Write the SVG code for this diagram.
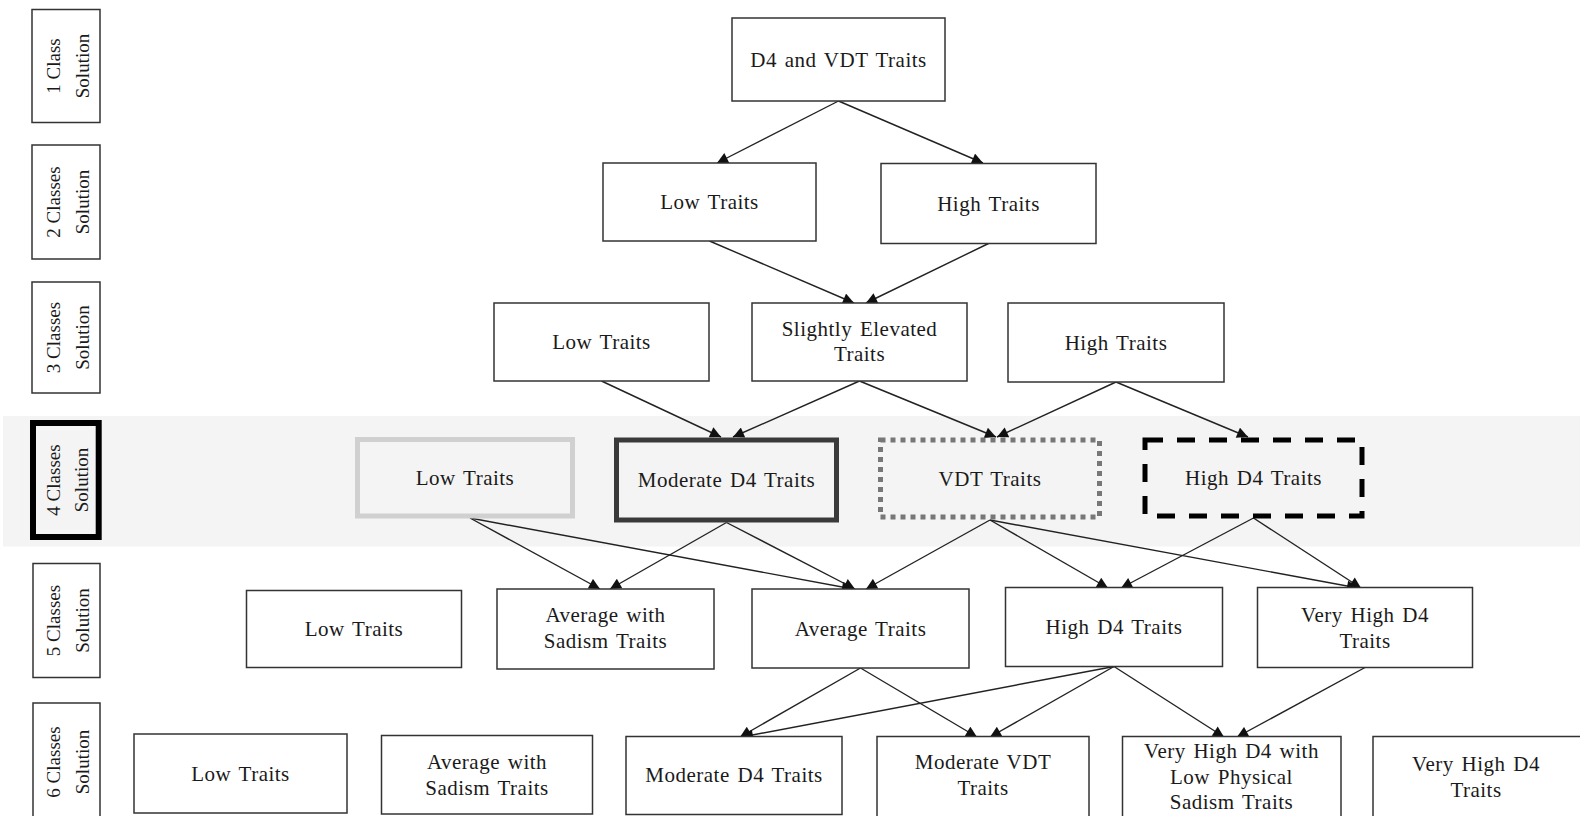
<svg xmlns="http://www.w3.org/2000/svg" width="1580" height="816" viewBox="0 0 1580 816">
<defs>
<marker id="ah" viewBox="0 0 10 10" markerUnits="userSpaceOnUse" markerWidth="12" markerHeight="11" refX="10" refY="5" orient="auto">
<path d="M0,0 L10,5 L0,10 z" fill="#111"/>
</marker>
<style>
.box{fill:#fff;stroke:#333;stroke-width:1.5}
.t{font-family:"Liberation Serif","Times New Roman",serif;font-size:21px;letter-spacing:0.5px;word-spacing:2px;fill:#1a1a1a;text-anchor:middle}
.lt{font-family:"Liberation Serif","Times New Roman",serif;font-size:19px;fill:#1a1a1a;text-anchor:middle}
.c{fill:none;stroke:#222;stroke-width:1.4;marker-end:url(#ah)}
</style>
</defs>
<rect width="1580" height="816" fill="#fff"/>
<rect x="3" y="416" width="1577" height="130.5" fill="#f4f4f4"/>

<g id="label-1">
<rect class="box" x="32" y="9.5" width="68" height="113"/>
<text class="lt" transform="translate(60,66) rotate(-90)">1 Class</text>
<text class="lt" transform="translate(89,66) rotate(-90)">Solution</text>
</g>
<g id="label-2">
<rect class="box" x="32" y="145" width="68" height="114"/>
<text class="lt" transform="translate(60,202) rotate(-90)">2 Classes</text>
<text class="lt" transform="translate(89,202) rotate(-90)">Solution</text>
</g>
<g id="label-3">
<rect class="box" x="32" y="282" width="68" height="111"/>
<text class="lt" transform="translate(60,337.5) rotate(-90)">3 Classes</text>
<text class="lt" transform="translate(89,337.5) rotate(-90)">Solution</text>
</g>
<g id="label-4">
<rect x="33" y="423" width="65.7" height="114" fill="#f4f4f4" stroke="#000" stroke-width="6"/>
<text class="lt" transform="translate(60,480) rotate(-90)">4 Classes</text>
<text class="lt" transform="translate(88,480) rotate(-90)">Solution</text>
</g>
<g id="label-5">
<rect class="box" x="33" y="563.5" width="67" height="114"/>
<text class="lt" transform="translate(60,620.5) rotate(-90)">5 Classes</text>
<text class="lt" transform="translate(89,620.5) rotate(-90)">Solution</text>
</g>
<g id="label-6">
<rect class="box" x="33" y="703" width="67" height="120"/>
<text class="lt" transform="translate(60,762) rotate(-90)">6 Classes</text>
<text class="lt" transform="translate(89,762) rotate(-90)">Solution</text>
</g>

<g id="connectors">
<line class="c" x1="838.5" y1="101" x2="717" y2="163"/>
<line class="c" x1="838.5" y1="101" x2="983" y2="163"/>
<line class="c" x1="709.5" y1="241" x2="854" y2="303"/>
<line class="c" x1="988.5" y1="243.5" x2="866" y2="303"/>
<line class="c" x1="601.5" y1="381" x2="721" y2="437"/>
<line class="c" x1="859.5" y1="381" x2="733" y2="437"/>
<line class="c" x1="859.5" y1="381" x2="996" y2="437"/>
<line class="c" x1="1116" y1="382" x2="997" y2="437"/>
<line class="c" x1="1116" y1="382" x2="1248" y2="437"/>
<line class="c" x1="470" y1="518" x2="600" y2="589"/>
<line class="c" x1="470" y1="518" x2="853" y2="589"/>
<line class="c" x1="726.5" y1="522.5" x2="610" y2="589"/>
<line class="c" x1="726.5" y1="522.5" x2="855" y2="589"/>
<line class="c" x1="990" y1="520" x2="866" y2="589"/>
<line class="c" x1="990" y1="520" x2="1108" y2="588"/>
<line class="c" x1="990" y1="520" x2="1358" y2="588"/>
<line class="c" x1="1253.5" y1="518" x2="1121" y2="588"/>
<line class="c" x1="1253.5" y1="518" x2="1361" y2="588"/>
<line class="c" x1="860.5" y1="668" x2="740" y2="737"/>
<line class="c" x1="860.5" y1="668" x2="977" y2="737"/>
<line class="c" x1="1114" y1="666.5" x2="742" y2="737"/>
<line class="c" x1="1114" y1="666.5" x2="990" y2="737"/>
<line class="c" x1="1114" y1="666.5" x2="1224" y2="737"/>
<line class="c" x1="1365" y1="667.5" x2="1237" y2="737"/>
</g>

<g id="n1"><rect class="box" x="732" y="18" width="213" height="83"/><text class="t" x="838.5" y="67">D4 and VDT Traits</text></g>

<g id="n2a"><rect class="box" x="603" y="163" width="213" height="78"/><text class="t" x="709.5" y="209">Low Traits</text></g>
<g id="n2b"><rect class="box" x="881" y="163.5" width="215" height="80"/><text class="t" x="988.5" y="210.5">High Traits</text></g>

<g id="n3a"><rect class="box" x="494" y="303" width="215" height="78"/><text class="t" x="601.5" y="349">Low Traits</text></g>
<g id="n3b"><rect class="box" x="752" y="303" width="215" height="78"/><text class="t" x="859.5" y="336">Slightly Elevated</text><text class="t" x="859.5" y="361">Traits</text></g>
<g id="n3c"><rect class="box" x="1008" y="303" width="216" height="79"/><text class="t" x="1116" y="349.5">High Traits</text></g>

<g id="n4a"><rect x="357.5" y="439.5" width="215" height="76.5" fill="#f4f4f4" stroke="#d0d0d0" stroke-width="5"/><text class="t" x="465" y="484.5">Low Traits</text></g>
<g id="n4b"><rect x="616.5" y="440" width="220" height="80" fill="#f4f4f4" stroke="#3a3a3a" stroke-width="5"/><text class="t" x="726.5" y="487">Moderate D4 Traits</text></g>
<g id="n4c"><rect x="880.5" y="440" width="219" height="77" fill="#f4f4f4" stroke="#777" stroke-width="5" stroke-dasharray="5 5"/><text class="t" x="990" y="485.5">VDT Traits</text></g>
<g id="n4d"><rect x="1145" y="440" width="217" height="76" fill="#f4f4f4" stroke="#000" stroke-width="5" stroke-dasharray="18 14"/><text class="t" x="1253.5" y="485">High D4 Traits</text></g>

<g id="n5a"><rect class="box" x="246.5" y="590.5" width="215" height="77"/><text class="t" x="354" y="636">Low Traits</text></g>
<g id="n5b"><rect class="box" x="497" y="589" width="217" height="80"/><text class="t" x="605.5" y="622">Average with</text><text class="t" x="605.5" y="648">Sadism Traits</text></g>
<g id="n5c"><rect class="box" x="752" y="589" width="217" height="79"/><text class="t" x="860.5" y="635.5">Average Traits</text></g>
<g id="n5d"><rect class="box" x="1005.5" y="587.5" width="217" height="79"/><text class="t" x="1114" y="634">High D4 Traits</text></g>
<g id="n5e"><rect class="box" x="1257.5" y="587.5" width="215" height="80"/><text class="t" x="1365" y="622">Very High D4</text><text class="t" x="1365" y="648">Traits</text></g>

<g id="n6a"><rect class="box" x="134" y="734" width="213" height="79"/><text class="t" x="240.5" y="781">Low Traits</text></g>
<g id="n6b"><rect class="box" x="381.5" y="735.5" width="211" height="78.5"/><text class="t" x="487" y="769">Average with</text><text class="t" x="487" y="795">Sadism Traits</text></g>
<g id="n6c"><rect class="box" x="626" y="736.5" width="216" height="78"/><text class="t" x="734" y="782">Moderate D4 Traits</text></g>
<g id="n6d"><rect class="box" x="877" y="736.5" width="212" height="90"/><text class="t" x="983" y="769">Moderate VDT</text><text class="t" x="983" y="795">Traits</text></g>
<g id="n6e"><rect class="box" x="1122.5" y="736.5" width="218.5" height="90"/><text class="t" x="1231.5" y="758">Very High D4 with</text><text class="t" x="1231.5" y="784">Low Physical</text><text class="t" x="1231.5" y="809">Sadism Traits</text></g>
<g id="n6f"><rect class="box" x="1373" y="736.5" width="220" height="90"/><text class="t" x="1476" y="771">Very High D4</text><text class="t" x="1476" y="797">Traits</text></g>
</svg>
